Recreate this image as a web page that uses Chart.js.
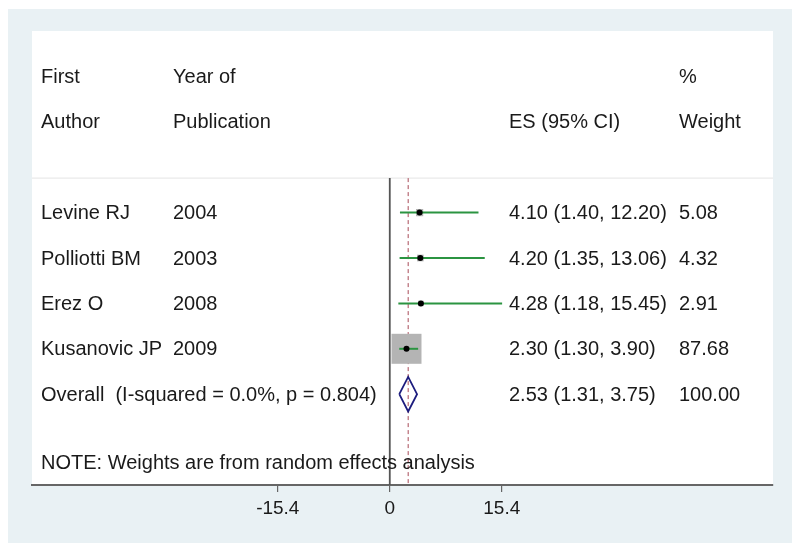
<!DOCTYPE html>
<html>
<head>
<meta charset="utf-8">
<script src="https://cdn.jsdelivr.net/npm/chart.js@4"></script>
<style>
  html, body { margin: 0; padding: 0; background: #ffffff; }
  #wrap { width: 800px; height: 552px; }
</style>
</head>
<body>
<div id="wrap"><canvas id="forestChart" width="800" height="552"></canvas></div>
<script>
const authors = ['Levine RJ', 'Polliotti BM', 'Erez O', 'Kusanovic JP'];
const years = ['2004', '2003', '2008', '2009'];
const es = [4.10, 4.20, 4.28, 2.30];
const lower = [1.40, 1.35, 1.18, 1.30];
const upper = [12.20, 13.06, 15.45, 3.90];
const weights = [5.08, 4.32, 2.91, 87.68];
const studyRows = [3, 4, 5, 6];

const overallLabel = 'Overall  (I-squared = 0.0%, p = 0.804)';
const overallEs = 2.53;
const overallLower = 1.31;
const overallUpper = 3.75;
const overallWeight = 100.00;
const overallRow = 7;

const xTicks = [-15.4, 0, 15.4];
const noteText = 'NOTE: Weights are from random effects analysis';

const FAMILY = '"Liberation Sans", Arial, sans-serif';
const FONT = '20px ' + FAMILY;
const maxW = Math.max(...weights);

function fmtCi(e, l, u) {
    return e.toFixed(2) + ' (' + l.toFixed(2) + ', ' + u.toFixed(2) + ')';
}

const datasets = [];

// confidence interval lines
studyRows.forEach((row, i) => {
    datasets.push({
        type: 'line',
        data: [{ x: lower[i], y: row }, { x: upper[i], y: row }],
        borderColor: '#2b9441',
        borderWidth: 2,
        pointRadius: 0,
        order: 2
    });
});

// weight boxes
datasets.push({
    type: 'scatter',
    data: studyRows.map((row, i) => ({ x: es[i], y: row })),
    pointStyle: 'rect',
    pointRadius: weights.map(w => 30 * Math.sqrt(w / maxW) / Math.SQRT2),
    backgroundColor: '#b4b4b4',
    borderWidth: 0,
    order: 3
});

// point estimates
datasets.push({
    type: 'scatter',
    data: studyRows.map((row, i) => ({ x: es[i], y: row })),
    pointStyle: 'circle',
    pointRadius: 3,
    backgroundColor: '#000000',
    borderWidth: 0,
    order: 1
});

// overall diamond
datasets.push({
    type: 'line',
    data: [
        { x: overallLower, y: overallRow },
        { x: overallEs, y: overallRow - 0.38 },
        { x: overallUpper, y: overallRow },
        { x: overallEs, y: overallRow + 0.38 },
        { x: overallLower, y: overallRow }
    ],
    borderColor: '#1c1c7e',
    borderWidth: 1.8,
    pointRadius: 0,
    tension: 0,
    order: 1
});

// null line
datasets.push({
    type: 'line',
    data: [{ x: 0, y: 2.24 }, { x: 0, y: 9 }],
    borderColor: '#555555',
    borderWidth: 1.8,
    pointRadius: 0,
    order: 4
});

// overall effect dashed line
datasets.push({
    type: 'line',
    data: [{ x: overallEs, y: 2.24 }, { x: overallEs, y: 9 }],
    borderColor: '#a84a58',
    borderWidth: 1,
    borderDash: [4, 3],
    pointRadius: 0,
    order: 5
});

const panelPlugin = {
    id: 'panel',
    beforeDraw(chart) {
        const ctx = chart.ctx;
        const a = chart.chartArea;
        ctx.save();
        ctx.fillStyle = '#e9f1f4';
        ctx.fillRect(8, 9, 784, 534);
        ctx.fillStyle = '#ffffff';
        ctx.fillRect(a.left, a.top, a.right - a.left, a.bottom - a.top);
        const ySep = chart.scales.y.getPixelForValue(2.24);
        ctx.strokeStyle = '#e4e4e4';
        ctx.lineWidth = 1;
        ctx.beginPath();
        ctx.moveTo(a.left, ySep);
        ctx.lineTo(a.right, ySep);
        ctx.stroke();
        ctx.restore();
    },
    afterDraw(chart) {
        const ctx = chart.ctx;
        const y = chart.scales.y;
        const cols = [41, 173, 509, 679];
        ctx.save();
        ctx.font = FONT;
        ctx.fillStyle = '#1a1a1a';
        ctx.textBaseline = 'middle';
        ctx.textAlign = 'left';
        const put = (t, c, row) => ctx.fillText(t, cols[c], y.getPixelForValue(row) + 1);
        put('First', 0, 0);
        put('Year of', 1, 0);
        put('%', 3, 0);
        put('Author', 0, 1);
        put('Publication', 1, 1);
        put('ES (95% CI)', 2, 1);
        put('Weight', 3, 1);
        studyRows.forEach((row, i) => {
            put(authors[i], 0, row);
            put(years[i], 1, row);
            put(fmtCi(es[i], lower[i], upper[i]), 2, row);
            put(weights[i].toFixed(2), 3, row);
        });
        put(overallLabel, 0, overallRow);
        put(fmtCi(overallEs, overallLower, overallUpper), 2, overallRow);
        put(overallWeight.toFixed(2), 3, overallRow);
        put(noteText, 0, 8.5);
        ctx.restore();
    }
};

new Chart(document.getElementById('forestChart').getContext('2d'), {
    data: { datasets: datasets },
    options: {
        responsive: false,
        animation: false,
        layout: { padding: { left: 32, right: 27, top: 31, bottom: 27 } },
        plugins: { legend: { display: false }, tooltip: { enabled: false } },
        scales: {
            x: {
                type: 'linear',
                min: -49.2,
                max: 52.7,
                afterBuildTicks: scale => { scale.ticks = xTicks.map(v => ({ value: v })); },
                afterFit: scale => { scale.height = 40; },
                ticks: {
                    color: '#1a1a1a',
                    font: { family: FAMILY, size: 19 },
                    padding: 5,
                    maxRotation: 0,
                    callback: v => String(v)
                },
                grid: { drawOnChartArea: false, drawTicks: true, tickLength: 7, color: '#666666', lineWidth: 1.2 },
                border: { display: true, color: '#666666', width: 2 }
            },
            y: {
                type: 'linear',
                display: false,
                reverse: true,
                min: -1,
                max: 9
            }
        }
    },
    plugins: [panelPlugin]
});
</script>
</body>
</html>
